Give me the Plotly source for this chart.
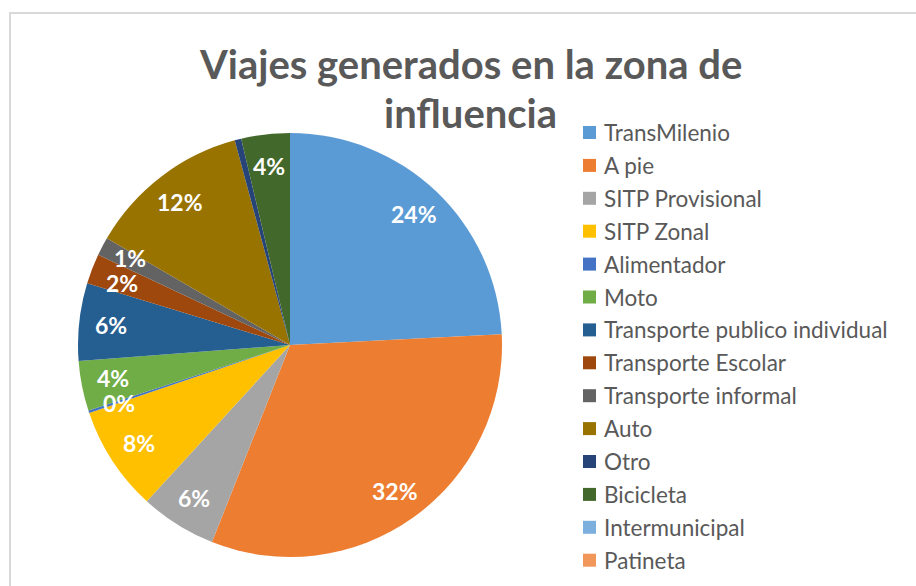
import math
import plotly.graph_objects as go

# ---------------- data ----------------
categories = [
    "TransMilenio", "A pie", "SITP Provisional", "SITP Zonal", "Alimentador",
    "Moto", "Transporte publico individual", "Transporte Escolar",
    "Transporte informal", "Auto", "Otro", "Bicicleta", "Intermunicipal", "Patineta",
]
shares = [24.2, 31.8, 5.8, 8.0, 0.2, 3.8, 5.9, 2.3, 1.4, 12.4, 0.5, 3.7, 0.0, 0.0]
colors = [
    "#5B9BD5", "#ED7D31", "#A5A5A5", "#FFC000", "#4472C4", "#70AD47", "#255E91",
    "#9E480E", "#636363", "#997300", "#264478", "#43682B", "#7CAFDD", "#F1975A",
]
title_lines = ["Viajes generados en la zona de", "influencia"]
hidden_labels = {"Otro"}

# ---------------- layout helpers ----------------
W, H = 916, 586
def px(x):
    return x / W
def py(y):
    return 1 - y / H

CX, CY, R = 290, 345, 212
FONT = "Lato"
GREY = "#595959"

fig = go.Figure(
    go.Pie(
        labels=categories,
        values=shares,
        marker=dict(colors=colors, line=dict(width=0)),
        sort=False,
        direction="clockwise",
        rotation=0,
        textinfo="none",
        hoverinfo="label+percent",
        showlegend=False,
        domain=dict(x=[px(CX - R), px(CX + R)], y=[py(CY + R), py(CY - R)]),
    )
)

annotations = []
shapes = []

# data labels, positioned along each slice's mid angle, nudged apart if they collide
total = sum(shares)
cum = 0.0
placed = []
MIN_DY = 25
for cat, v in zip(categories, shares):
    mid = (cum + v / 2) / total * 2 * math.pi
    cum += v
    if v <= 0 or cat in hidden_labels:
        continue
    lx = CX + 0.85 * R * math.sin(mid)
    ly = CY - 0.85 * R * math.cos(mid)
    if placed:
        plx, ply = placed[-1]
        if abs(lx - plx) < 40 and abs(ly - ply) < MIN_DY:
            half = (MIN_DY - abs(ly - ply)) / 2
            sgn = 1 if ly >= ply else -1
            ly += sgn * half
            placed[-1] = (plx, ply - sgn * half)
    placed.append((lx, ly))
    annotations.append(dict(
        text=f"{round(v / total * 100)}%", showarrow=False,
        xref="paper", yref="paper", xanchor="center", yanchor="middle",
        font=dict(family=FONT, size=23, color="white", weight="bold"),
    ))
for ann, (lx, ly) in zip(annotations, placed):
    ann["x"] = px(lx)
    ann["y"] = py(ly)

# title
for i, line in enumerate(title_lines):
    annotations.append(dict(
        x=px(470), y=py(64 + i * 49), xref="paper", yref="paper",
        text=line, showarrow=False, xanchor="center", yanchor="middle",
        font=dict(family=FONT, size=40, color=GREY, weight="bold"),
    ))

# legend
LEG_Y0, LEG_STEP = 132.5, 32.9
for i, (cat, col) in enumerate(zip(categories, colors)):
    yc = LEG_Y0 + i * LEG_STEP
    shapes.append(dict(
        type="rect", xref="paper", yref="paper",
        x0=px(583), x1=px(596), y0=py(yc + 6.5), y1=py(yc - 6.5),
        fillcolor=col, line=dict(width=0),
    ))
    annotations.append(dict(
        x=px(602), y=py(yc), xref="paper", yref="paper",
        text=cat, showarrow=False, xanchor="left", yanchor="middle",
        font=dict(family=FONT, size=22.5, color=GREY),
    ))

# chart frame
shapes.append(dict(
    type="rect", xref="paper", yref="paper",
    x0=px(10), x1=px(W + 10), y0=py(H + 10), y1=py(13),
    line=dict(color="#d9d9d9", width=2), fillcolor="rgba(0,0,0,0)", layer="below",
))

fig.update_layout(
    width=W, height=H,
    margin=dict(l=0, r=0, t=0, b=0),
    paper_bgcolor="white", plot_bgcolor="white",
    annotations=annotations, shapes=shapes,
    showlegend=False,
)

fig.write_html(
    "out.html",
    config={"displayModeBar": False},
    post_script="document.body.style.margin='0';document.body.style.overflow='hidden';",
)
